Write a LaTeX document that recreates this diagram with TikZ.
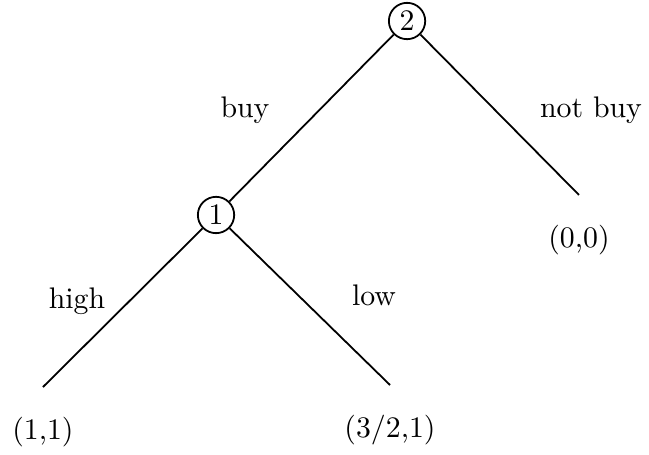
\documentclass[tikz,border=0pt]{standalone}
\usepackage{amsmath,amssymb}
\usetikzlibrary{positioning}
\tikzset{joueur/.style={draw, circle, inner sep=0pt, minimum size=12.2pt}}

\begin{document}
\begin{tikzpicture}[x=1cm, y=1cm, line width=0.6pt]
    \useasboundingbox (0,0) rectangle (7.658,5.369);

    % Joueur 2 (racine)
    \node[joueur] (j2) at (4.803,5.121) {2};

    % Joueur 1
    \node[joueur] (j1) at (2.549,2.832) {1};

    % Bouts des branches
    \coordinate (fA) at (0.507,0.802);
    \coordinate (fB) at (4.602,0.826);
    \coordinate (fC) at (6.832,3.068);

    % Les branches
    \draw (j2) -- (j1);
    \draw (j2) -- (fC);
    \draw (j1) -- (fA);
    \draw (j1) -- (fB);

    % Les gains
    \node[below=6.5pt of fA] (gA) {(1,1)};
    \node[below=6.5pt of fB] (gB) {(3/2,1)};
    \node[below=6.5pt of fC] (gC) {(0,0)};

    % Les actions
    \node (buy) at (2.891,4.071) {buy};
    \node (notbuy) at (6.974,4.071) {not buy};
    \node (high) at (0.909,1.817) {high};
    \node (low) at (4.413,1.888) {low};
\end{tikzpicture}
\end{document}
